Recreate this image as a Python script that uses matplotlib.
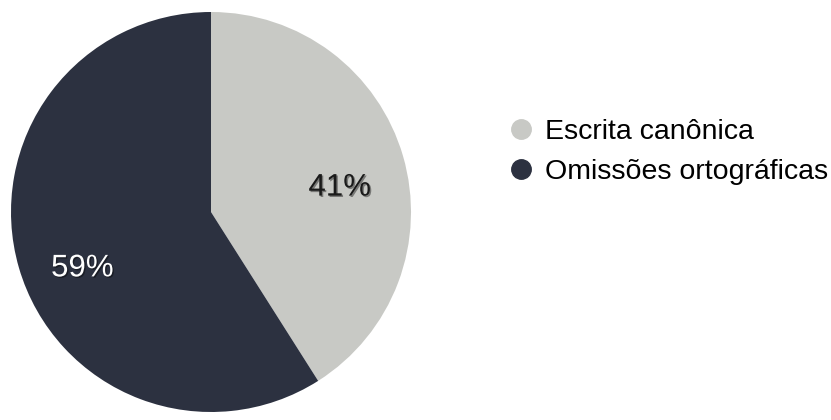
import matplotlib.pyplot as plt
import matplotlib.patheffects as pe
from matplotlib.lines import Line2D

# Data
labels = ['Escrita canônica', 'Omissões ortográficas']
values = [41, 59]
colors = ['#c8c9c5', '#2c3140']
text_colors = ['#1a1a1a', '#ffffff']

plt.rcParams['font.family'] = ['Liberation Sans', 'DejaVu Sans']

fig = plt.figure(figsize=(8.31, 4.2), dpi=100)
ax = fig.add_axes([11 / 831, 8 / 420, 400 / 831, 400 / 420])

wedges, texts, autotexts = ax.pie(
    values,
    colors=colors,
    startangle=90,
    counterclock=False,
    autopct=lambda p: f'{round(p)}%',
    pctdistance=0.67,
    radius=1.0,
)
# nudge labels down a little, like the original
shifts = [-0.065, -0.095]
for t, c, dy in zip(autotexts, text_colors, shifts):
    x, y = t.get_position()
    t.set_position((x, y + dy))
    t.set_color(c)
    t.set_fontsize(22.5)
    t.set_path_effects([pe.withSimplePatchShadow(offset=(1, -1), shadow_rgbFace='#000000', alpha=0.4)])

ax.set_xlim(-1, 1)
ax.set_ylim(-1, 1)
ax.set_aspect('equal')
ax.axis('off')

handles = [Line2D([], [], marker='o', linestyle='none', markersize=14,
                  markerfacecolor=c, markeredgecolor=c) for c in colors]
fig.legend(handles, labels, loc='center left', bbox_to_anchor=(0.61, 0.638),
           frameon=False, fontsize=20.5, handlelength=1.0, handletextpad=0.33,
           labelspacing=0.5, borderaxespad=0, borderpad=0)

plt.savefig('out.png', dpi=100)
